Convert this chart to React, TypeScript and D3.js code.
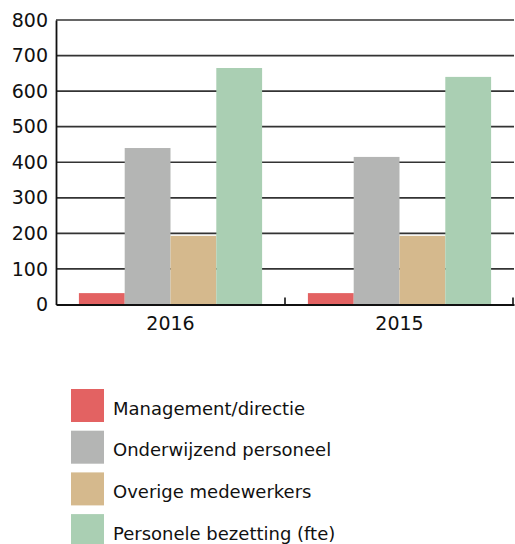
import React, { useRef, useEffect } from "react";
import * as d3 from "d3";

// chart data
const years = ["2016", "2015"];
const seriesNames = [
  "Management/directie",
  "Onderwijzend personeel",
  "Overige medewerkers",
  "Personele bezetting (fte)",
];
const management = [32, 32];
const onderwijzend = [440, 415];
const overige = [193, 193];
const bezetting = [665, 640];
const yTicks = [0, 100, 200, 300, 400, 500, 600, 700, 800];
const colors = ["#E36262", "#B4B5B4", "#D5B98D", "#AACFB3"];

const App = () => {
  const container = useRef(null);

  const width = 515;
  const height = 544;
  const left = 56;
  const right = 514;
  const top = 20;
  const bottom = 304.5;

  useEffect(() => {
    const svg = d3.select(container.current);
    svg.selectAll("*").remove();

    const values = [management, onderwijzend, overige, bezetting];
    const rows = years.map((y, i) => ({
      year: y,
      vals: values.map((v) => v[i]),
    }));

    const x0 = d3.scaleBand().domain(years).range([left, right]).padding(0);
    const x1 = d3
      .scaleBand()
      .domain(seriesNames)
      .range([0, x0.bandwidth()])
      .paddingInner(0)
      .paddingOuter(0.5);
    const y = d3.scaleLinear().domain([0, 800]).range([bottom, top]);

    // gridlines
    svg
      .append("g")
      .selectAll("line")
      .data(yTicks.filter((t) => t > 0))
      .enter()
      .append("line")
      .attr("x1", left)
      .attr("x2", right)
      .attr("y1", (d) => y(d))
      .attr("y2", (d) => y(d))
      .attr("stroke", "#333")
      .attr("stroke-width", 1.7);

    // bars
    svg
      .append("g")
      .selectAll("g")
      .data(rows)
      .enter()
      .append("g")
      .attr("transform", (d) => `translate(${x0(d.year)},0)`)
      .selectAll("rect")
      .data((d) => d.vals.map((v, i) => ({ key: seriesNames[i], v, i })))
      .enter()
      .append("rect")
      .attr("x", (d) => x1(d.key))
      .attr("y", (d) => y(d.v))
      .attr("width", x1.bandwidth())
      .attr("height", (d) => y(0) - y(d.v))
      .attr("fill", (d) => colors[d.i]);

    // y axis
    const yAxis = d3
      .axisLeft(y)
      .tickValues(yTicks)
      .tickSize(0)
      .tickPadding(8)
      .tickFormat(d3.format("d"));
    const yg = svg
      .append("g")
      .attr("transform", `translate(${left},0)`)
      .call(yAxis);
    yg.select(".domain").attr("stroke", "#111").attr("stroke-width", 1.8);
    yg.selectAll("text")
      .style("font-family", "DejaVu Sans")
      .style("font-size", "19px")
      .attr("fill", "#111");

    // x axis
    const xAxis = d3.axisBottom(x0).tickSize(0).tickPadding(12);
    const xg = svg
      .append("g")
      .attr("transform", `translate(0,${bottom})`)
      .call(xAxis);
    xg.select(".domain").attr("stroke", "#111").attr("stroke-width", 1.8);
    xg.selectAll("text")
      .style("font-family", "DejaVu Sans")
      .style("font-size", "19px")
      .attr("fill", "#111");

    // band boundary ticks pointing up
    xg.selectAll(".sep")
      .data(years.slice(1).map((d) => x0(d)).concat([right - 1]))
      .enter()
      .append("line")
      .attr("class", "sep")
      .attr("x1", (d) => d)
      .attr("x2", (d) => d)
      .attr("y1", 0)
      .attr("y2", -7)
      .attr("stroke", "#111")
      .attr("stroke-width", 1.6);

    // legend
    const legend = svg.append("g").attr("transform", "translate(71,389)");
    legend
      .selectAll("rect")
      .data(seriesNames)
      .enter()
      .append("rect")
      .attr("x", 0)
      .attr("y", (d, i) => i * 41.7)
      .attr("width", 33)
      .attr("height", 33)
      .attr("fill", (d, i) => colors[i]);
    legend
      .selectAll("text")
      .data(seriesNames)
      .enter()
      .append("text")
      .attr("x", 42)
      .attr("y", (d, i) => i * 41.7 + 25.5)
      .style("font-family", "DejaVu Sans")
      .style("font-size", "18px")
      .attr("fill", "#111")
      .text((d) => d);
  }, []);

  return (
    <svg
      ref={container}
      width={width}
      height={height}
      style={{ position: "absolute", left: 0, top: 0, background: "#fff" }}
    />
  );
};

export default App;
